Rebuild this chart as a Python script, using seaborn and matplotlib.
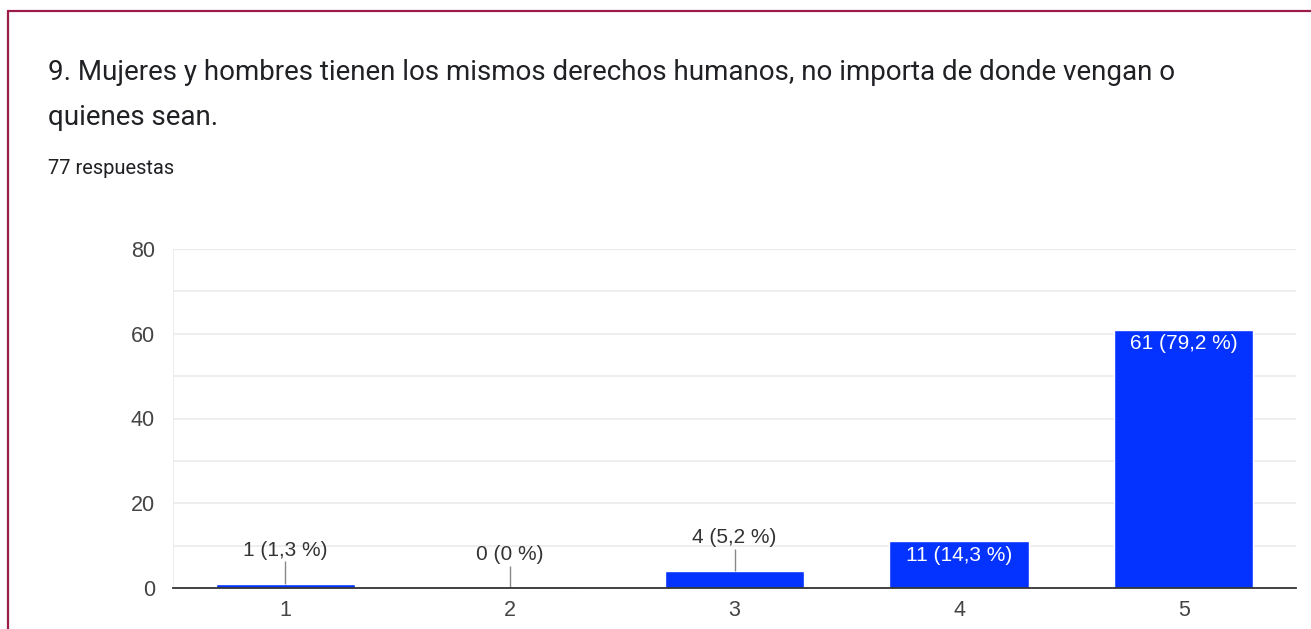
import matplotlib
matplotlib.use("Agg")
import matplotlib.pyplot as plt
import seaborn as sns
import pandas as pd
from matplotlib.lines import Line2D

categories = ["1", "2", "3", "4", "5"]
counts = [1, 0, 4, 11, 61]
percents = ["1,3", "0", "5,2", "14,3", "79,2"]
y_ticks = [0, 20, 40, 60, 80]
title_lines = ["9. Mujeres y hombres tienen los mismos derechos humanos, no importa de donde vengan o",
               "quienes sean."]
subtitle = "77 respuestas"

sns.set_style("white")
plt.rcParams['font.family'] = ['Liberation Sans', 'DejaVu Sans']

W, H = 1311, 629
fig = plt.figure(figsize=(W / 100, H / 100), dpi=100)
fig.patch.set_facecolor("white")

# card border (top and left)
border_col = "#9b1c4a"
fig.add_artist(Line2D([8 / W, 1.0], [1 - 11 / H, 1 - 11 / H], transform=fig.transFigure,
                      color=border_col, lw=1.6))
fig.add_artist(Line2D([8 / W, 8 / W], [0, 1 - 11 / H], transform=fig.transFigure,
                      color=border_col, lw=1.6))

# titles
fig.text(48 / W, 1 - 73 / H, title_lines[0], family="Roboto", fontsize=20,
         color="#202124", va="center", ha="left")
fig.text(48 / W, 1 - 118 / H, title_lines[1], family="Roboto", fontsize=20,
         color="#202124", va="center", ha="left")
fig.text(48 / W, 1 - 169 / H, subtitle, family="Roboto", fontsize=14.5,
         color="#202124", va="center", ha="left")

left, right, top, bottom = 173, 1296, 249, 588
ax = fig.add_axes([left / W, 1 - bottom / H, (right - left) / W, (bottom - top) / H])

df = pd.DataFrame({"cat": categories, "count": counts})
sns.barplot(data=df, x="cat", y="count", color="#0433ff", saturation=1, width=0.62,
            ax=ax, zorder=3)

# zero bar shown as faint line
for i, p in enumerate(ax.patches):
    if counts[i] == 0:
        p.set_edgecolor("#c9cff2")
        p.set_linewidth(1.2)

ax.set_xlim(-0.5, 4.5)
ax.set_ylim(0, 80)
ax.set_yticks(y_ticks)
ax.set_yticks(range(10, 80, 20), minor=True)
ax.set_yticklabels([str(t) for t in y_ticks])
ax.grid(axis="y", which="both", color="#ebebeb", lw=1.2, zorder=0)
ax.grid(axis="x", visible=False)
ax.set_xlabel("")
ax.set_ylabel("")
for s in ["top", "right", "left"]:
    ax.spines[s].set_visible(False)
ax.spines["bottom"].set_color("#333333")
ax.spines["bottom"].set_linewidth(1.3)
ax.spines["bottom"].set_zorder(5)
ax.axvline(-0.5, color="#ebebeb", lw=1.2, zorder=0)
ax.axhline(80, color="#ebebeb", lw=1.2, zorder=0)
ax.tick_params(axis="both", length=0, labelsize=15.5, labelcolor="#444444")
ax.tick_params(axis="y", pad=13)
ax.tick_params(axis="x", pad=9)

for i, (c, pc) in enumerate(zip(counts, percents)):
    label = f"{c} ({pc} %)"
    if c >= 10:
        ax.annotate(label, (i, c), xytext=(0, -3), textcoords="offset points",
                    ha="center", va="top", color="white", fontsize=15, zorder=6)
    else:
        ax.vlines(i, c, c + 5.3, color="#888888", lw=1.0, zorder=4)
        ax.annotate(label, (i, c + 5.3), xytext=(0, 1), textcoords="offset points",
                    ha="center", va="bottom", color="#333333", fontsize=15, zorder=6)

fig.savefig("out.png", dpi=100, facecolor="white")
